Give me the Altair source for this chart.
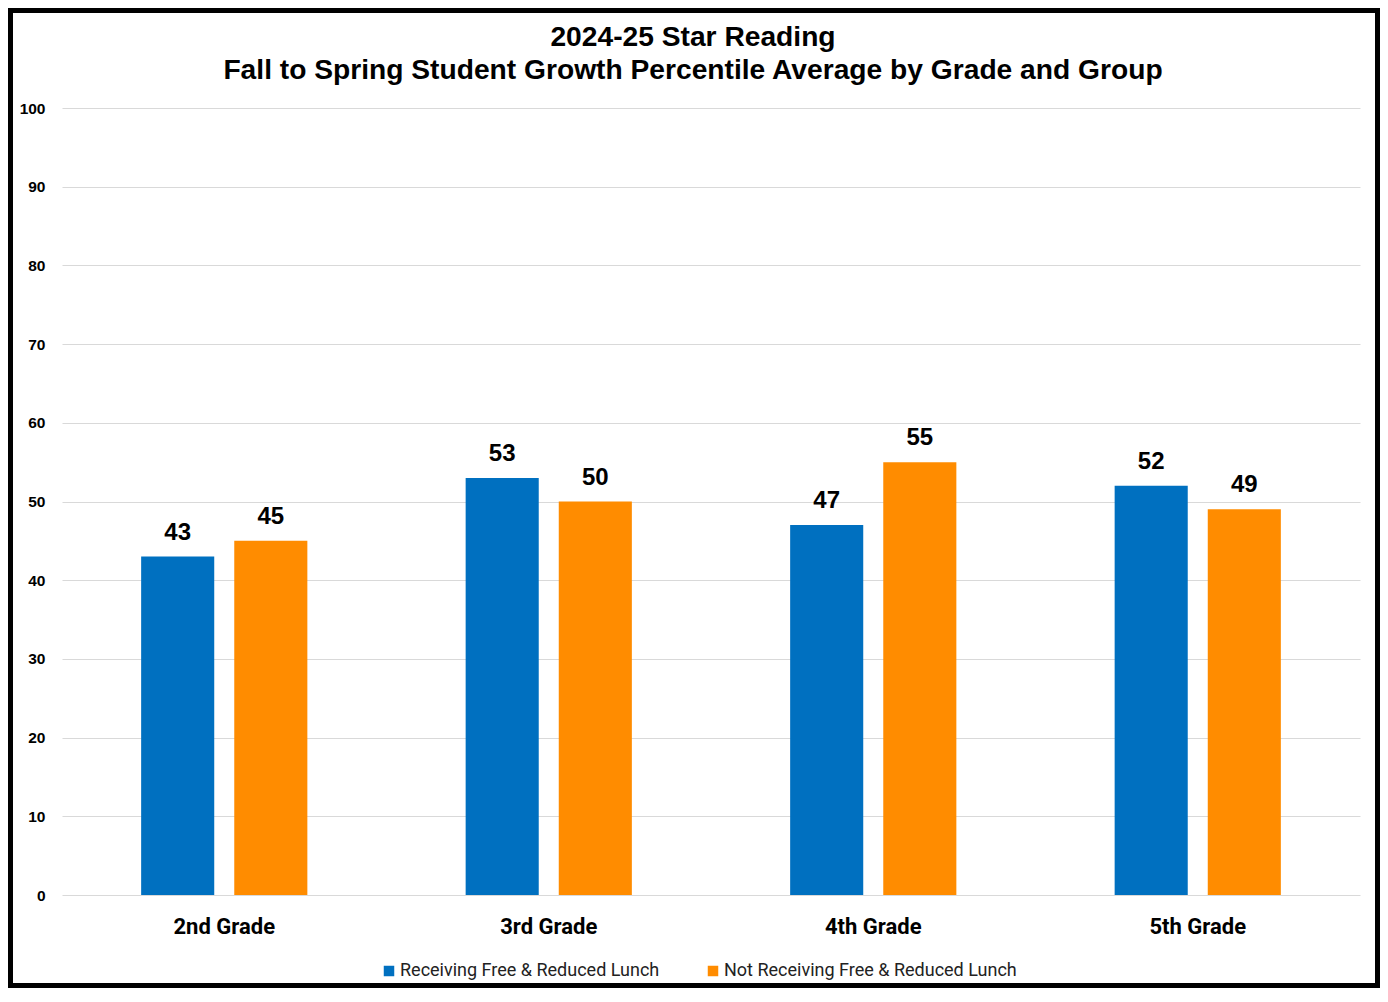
import altair as alt
import pandas as pd

grades = ["2nd Grade", "3rd Grade", "4th Grade", "5th Grade"]
groups = ["Receiving Free & Reduced Lunch", "Not Receiving Free & Reduced Lunch"]
receiving = [43, 53, 47, 52]
not_receiving = [45, 50, 55, 49]
colors = ["#0070C0", "#FF8C00"]

rows = []
for g, a, b in zip(grades, receiving, not_receiving):
    rows.append({"grade": g, "group": groups[0], "value": a})
    rows.append({"grade": g, "group": groups[1], "value": b})
df = pd.DataFrame(rows)

W, H = 1298, 787
PL, PT, PR, PB = 54, 100, 20, 93

x_enc = alt.X("grade:N", sort=grades,
              scale=alt.Scale(paddingInner=0, paddingOuter=0),
              axis=alt.Axis(title=None, labelAngle=0, labelFont="Roboto", labelFontWeight="bold",
                            labelFontSize=22, labelColor="black", ticks=False, domain=False,
                            labelPadding=21))
xo_enc = alt.XOffset("group:N", sort=groups, scale=alt.Scale(paddingInner=0.215, paddingOuter=0.85))
y_enc = alt.Y("value:Q", scale=alt.Scale(domain=[0, 100]),
              axis=alt.Axis(values=list(range(0, 101, 10)), title=None, grid=True, gridColor="#D9D9D9",
                            gridWidth=1.2, domain=False, ticks=False, labelFont="Liberation Sans",
                            labelFontWeight="bold", labelFontSize=15.5, labelColor="black", labelPadding=17))

base = alt.Chart(df)
bars = base.mark_bar().encode(
    x=x_enc, xOffset=xo_enc, y=y_enc,
    color=alt.Color("group:N", sort=groups, scale=alt.Scale(domain=groups, range=colors),
                    legend=alt.Legend(title=None, orient="none", legendX=318, legendY=854,
                                      direction="horizontal", symbolType="square", symbolSize=110,
                                      symbolStrokeWidth=0, labelFont="Roboto", labelFontSize=18,
                                      labelLimit=0, labelColor="#222222", columnPadding=44,
                                      labelOffset=2))
)
labels = base.mark_text(baseline="bottom", dy=-12, fontSize=24, fontWeight="bold",
                        font="Liberation Sans", color="black").encode(
    x=alt.X("grade:N", sort=grades), xOffset=alt.XOffset("group:N", sort=groups),
    y="value:Q", text="value:Q")

border = alt.Chart(alt.Data(values=[{}])).mark_rect(
    fillOpacity=0, stroke="black", strokeWidth=5).encode(
    x=alt.value(-PL + 2.5), x2=alt.value(W + PR - 2.5),
    y=alt.value(-PT + 2.5), y2=alt.value(H + PB - 2.5))

chart = alt.layer(bars, labels, border).properties(
    width=W, height=H,
    padding={"left": PL, "top": PT, "right": PR, "bottom": PB},
    autosize=alt.AutoSizeParams(type="none"),
    background="white",
    title=alt.Title(["2024-25 Star Reading",
                     "Fall to Spring Student Growth Percentile Average by Grade and Group"],
                    fontSize=28.2, font="Liberation Sans", fontWeight="bold", color="black",
                    anchor="middle", dx=-18, offset=-77, lineHeight=33),
).configure_view(stroke=None)

chart.save("out.html", embed_options={"renderer": "svg", "actions": False})
